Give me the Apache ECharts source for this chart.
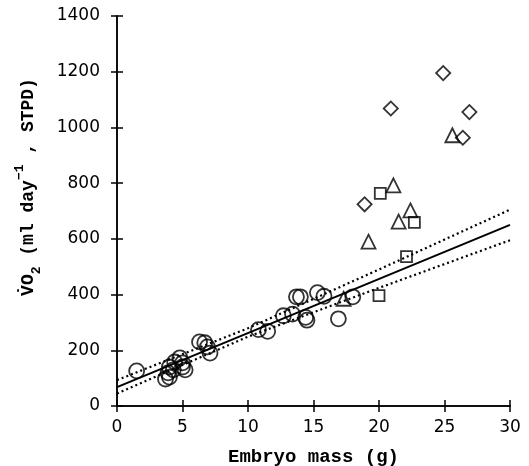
<!DOCTYPE html>
<html>
<head>
<meta charset="utf-8">
<script src="https://cdn.jsdelivr.net/npm/echarts@6/dist/echarts.min.js"></script>
<style>
    html, body { margin: 0; padding: 0; background: #fff; }
    #main { width: 529px; height: 466px; }
</style>
</head>
<body>
<div id="main"></div>
<script>
// embryo mass (g), VO2 (ml/day)
var circles = [
    [1.5, 126], [3.7, 97], [3.9, 119], [4.0, 104], [4.0, 140], [4.3, 130], [4.4, 158],
    [4.8, 173], [5.0, 140], [5.0, 155], [5.2, 130], [6.3, 230], [6.7, 227], [6.9, 212],
    [7.1, 190], [10.8, 274], [11.5, 268], [12.7, 324], [13.4, 330], [13.7, 392], [14.0, 392],
    [14.4, 318], [14.5, 308], [15.3, 407], [15.8, 394], [16.9, 313], [18.0, 392]
];
var triangles = [[17.3, 385], [19.2, 590], [21.1, 792], [21.5, 662], [22.4, 702], [25.6, 972]];
var squares = [[20.0, 396], [20.1, 763], [22.1, 536], [22.7, 659]];
var diamonds = [[18.9, 724], [20.9, 1068], [24.9, 1195], [26.4, 963], [26.9, 1055]];

// regression line and its confidence band
var fitLine = [[0, 68], [30, 650]];
var upperBand = [[0, 93], [10, 279], [20, 490], [30, 705]];
var lowerBand = [[0, 45], [10, 249], [20, 424], [30, 595]];

var xTicks = [0, 30, 5];      // min, max, interval
var yTicks = [0, 1400, 200];

var dom = document.getElementById("main");
var myChart = echarts.init(dom);

var tickFont = { color: '#000', fontSize: 17, fontFamily: 'DejaVu Sans' };
var lineBlack = { color: '#000', width: 1.5 };

function markerSeries(data, symbol, size, rotate) {
    return {
        type: 'scatter',
        data: data,
        symbol: symbol,
        symbolSize: size,
        symbolRotate: rotate || 0,
        itemStyle: {
            color: 'rgba(255,255,255,0)',
            borderColor: '#000',
            borderWidth: 1.8
        },
        z: 5
    };
}

function lineSeries(data, type, width) {
    return {
        type: 'line',
        data: data,
        symbol: 'none',
        silent: true,
        lineStyle: { color: '#000', width: width, type: type },
        z: 3
    };
}

var option = {
    backgroundColor: '#ffffff',
    animation: false,
    grid: { left: 117, right: 19, top: 16, bottom: 60, outerBoundsMode: 'none' },
    xAxis: [
        {
            type: 'value',
            min: xTicks[0], max: xTicks[1], interval: xTicks[2],
            name: 'Embryo mass (g)',
            nameLocation: 'middle',
            nameGap: 42,
            nameTextStyle: { color: '#000', fontSize: 19, fontWeight: 'bold', fontFamily: 'Liberation Mono' },
            axisLine: { lineStyle: lineBlack },
            axisTick: { inside: true, length: 6, lineStyle: lineBlack },
            axisLabel: Object.assign({ margin: 13 }, tickFont),
            splitLine: { show: false }
        },
        {
            type: 'value', position: 'top',
            min: xTicks[0], max: xTicks[1], interval: xTicks[2],
            axisLine: { lineStyle: lineBlack },
            axisTick: { inside: true, length: 6, lineStyle: lineBlack },
            axisLabel: { show: false },
            splitLine: { show: false }
        }
    ],
    yAxis: [
        {
            type: 'value',
            min: yTicks[0], max: yTicks[1], interval: yTicks[2],
            axisLine: { show: true, lineStyle: lineBlack },
            axisTick: { show: true, inside: true, length: 6, lineStyle: lineBlack },
            axisLabel: Object.assign({ margin: 17, formatter: function (v) { return String(v); } }, tickFont),
            splitLine: { show: false }
        },
        {
            type: 'value', position: 'right',
            min: yTicks[0], max: yTicks[1], interval: yTicks[2],
            axisLine: { show: true, lineStyle: lineBlack },
            axisTick: { show: true, inside: true, length: 6, lineStyle: lineBlack },
            axisLabel: { show: false },
            splitLine: { show: false }
        }
    ],
    graphic: [
        {
            type: 'text',
            x: 28, y: 187,
            rotation: Math.PI / 2,
            style: {
                text: '{t|V̇O}{sub|2}{t| (ml day}{sup|−1}{t| , STPD)}',
                align: 'center',
                verticalAlign: 'middle',
                fill: '#000',
                rich: {
                    t: { fontSize: 18, fontWeight: 'bold', fontFamily: 'Liberation Mono', lineHeight: 30, verticalAlign: 'middle' },
                    sub: { fontSize: 13, fontWeight: 'bold', fontFamily: 'Liberation Mono', lineHeight: 30, verticalAlign: 'bottom' },
                    sup: { fontSize: 13, fontWeight: 'bold', fontFamily: 'Liberation Mono', lineHeight: 30, verticalAlign: 'top' }
                }
            }
        }
    ],
    series: [
        lineSeries(fitLine, 'solid', 2),
        lineSeries(upperBand, [2, 3], 2.2),
        lineSeries(lowerBand, [2, 3], 2.2),
        markerSeries(circles, 'circle', 15),
        markerSeries(triangles, 'triangle', 14),
        markerSeries(squares, 'rect', 11),
        markerSeries(diamonds, 'rect', 10, 45)
    ]
};

myChart.setOption(option, true);
</script>
</body>
</html>
